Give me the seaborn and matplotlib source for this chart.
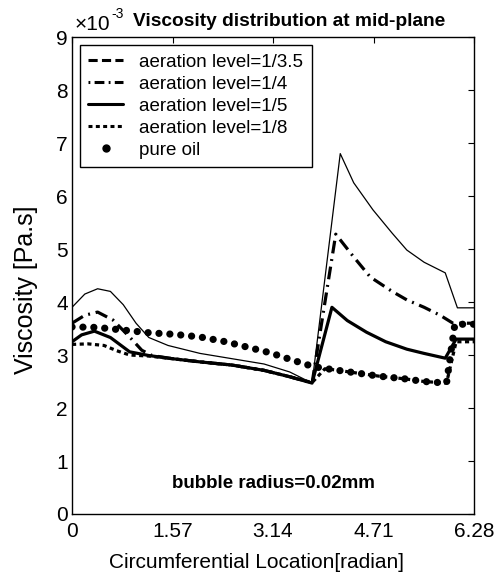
import matplotlib
matplotlib.use("Agg")
import matplotlib.pyplot as plt
from matplotlib.lines import Line2D
import seaborn as sns
import pandas as pd

# Viscosity along the circumference (values in units of 1e-3 Pa.s)
x_a35 = [0, 0.2, 0.4, 0.6, 0.8, 1.0, 1.2, 1.5, 2.0, 2.5, 3.0, 3.4, 3.75,
         4.19, 4.4, 4.7, 5.0, 5.23, 5.5, 5.83, 6.02, 6.28]
y_a35 = [3.9, 4.15, 4.25, 4.2, 3.95, 3.6, 3.33, 3.18, 3.03, 2.93, 2.83, 2.68, 2.47,
         6.8, 6.25, 5.74, 5.3, 4.98, 4.75, 4.55, 3.89, 3.89]

x_a4 = [0, 0.2, 0.4, 0.64, 0.9, 1.09, 1.25, 1.57, 2.0, 2.5, 3.0, 3.4, 3.75,
        4.12, 4.4, 4.66, 5.0, 5.23, 5.5, 5.75, 5.95, 6.28]
y_a4 = [3.6, 3.75, 3.81, 3.66, 3.34, 3.09, 2.99, 2.93, 2.87, 2.81, 2.71, 2.59, 2.47,
        5.28, 4.85, 4.47, 4.2, 4.04, 3.9, 3.75, 3.6, 3.6]

x_a5 = [0, 0.15, 0.35, 0.6, 0.9, 1.2, 1.57, 2.0, 2.5, 3.0, 3.4, 3.75,
        4.06, 4.3, 4.6, 4.9, 5.23, 5.5, 5.83, 6.0, 6.28]
y_a5 = [3.25, 3.38, 3.45, 3.33, 3.06, 2.99, 2.93, 2.87, 2.81, 2.71, 2.59, 2.47,
        3.9, 3.65, 3.43, 3.25, 3.11, 3.03, 2.94, 3.3, 3.3]

x_a8 = [0, 0.25, 0.5, 0.7, 0.9, 1.2, 1.57, 2.0, 2.5, 3.0, 3.4, 3.75,
        3.95, 4.1, 4.45, 4.8, 5.2, 5.5, 5.85, 6.0, 6.28]
y_a8 = [3.2, 3.21, 3.18, 3.08, 3.0, 2.98, 2.93, 2.87, 2.81, 2.71, 2.59, 2.48,
        2.74, 2.72, 2.66, 2.6, 2.55, 2.5, 2.47, 3.25, 3.25]

x_oil = [0, 0.4, 0.8, 1.2, 1.6, 2.0, 2.4, 2.8, 3.1, 3.4, 3.77, 4.1, 4.45,
         4.8, 5.2, 5.5, 5.85, 5.98, 6.28]
y_oil = [3.53, 3.52, 3.47, 3.42, 3.39, 3.34, 3.25, 3.13, 3.04, 2.92, 2.78, 2.72, 2.66,
         2.6, 2.55, 2.5, 2.47, 3.58, 3.58]

labels = ["aeration level=1/3.5", "aeration level=1/4", "aeration level=1/5",
          "aeration level=1/8", "pure oil"]
x_ticks = [0, 1.57, 3.14, 4.71, 6.28]
x_tick_labels = ["0", "1.57", "3.14", "4.71", "6.28"]
y_ticks = list(range(10))

sns.set_theme(style="white")
plt.rcParams["font.family"] = ["Liberation Sans", "DejaVu Sans"]
plt.rcParams.update({"text.color": "black", "axes.labelcolor": "black",
                     "xtick.color": "black", "ytick.color": "black"})

fig = plt.figure(figsize=(4.99, 5.72), dpi=100)
ax = fig.add_axes([0.1443, 0.1014, 0.8057, 0.8339])

dot_style = (0, (0.01, 1.5))
series = [
    (x_oil, y_oil, dict(linewidth=5.2, linestyle=dot_style, dash_capstyle="round")),
    (x_a8, y_a8, dict(linewidth=2.3, linestyle=(0, (1.3, 1.1)))),
    (x_a4, y_a4, dict(linewidth=2.3, linestyle=(0, (4.0, 1.8, 0.6, 1.8)))),
    (x_a5, y_a5, dict(linewidth=2.3, linestyle="-")),
    (x_a35, y_a35, dict(linewidth=0.9, linestyle="-")),
]
for xs, ys, kw in series:
    df = pd.DataFrame({"x": xs, "y": ys})
    sns.lineplot(data=df, x="x", y="y", ax=ax, color="black", sort=False,
                 estimator=None, legend=False, **kw)

ax.set_xlim(0, 6.28)
ax.set_ylim(0, 9)
ax.set_xticks(x_ticks)
ax.set_xticklabels(x_tick_labels)
ax.set_yticks(y_ticks)
ax.tick_params(direction="in", length=4, width=0.8, color="black",
               labelcolor="black", labelsize=15, top=True, right=True)
ax.tick_params(axis="x", pad=6)
ax.tick_params(axis="y", pad=3)
for sp in ax.spines.values():
    sp.set_color("black")
    sp.set_linewidth(1.0)

ax.set_xlabel("Circumferential Location[radian]", fontsize=15, color="black")
ax.xaxis.set_label_coords(0.458, -0.082)
ax.set_ylabel("Viscosity [Pa.s]", fontsize=18, color="black")
ax.yaxis.set_label_coords(-0.085, 0.47)

# exponent of the y scale
fig.text(0.150, 0.948, "\u00d710", fontsize=15, ha="left", va="baseline")
fig.text(0.224, 0.968, "-3", fontsize=10, ha="left", va="baseline")
fig.text(0.267, 0.955, "Viscosity distribution at mid-plane", fontsize=13.8,
         fontweight="bold", ha="left", va="baseline")
ax.text(3.14, 0.57, "bubble radius=0.02mm", fontsize=13.5, fontweight="bold",
        ha="center", va="center")

handles = [
    Line2D([], [], color="black", linewidth=2.2, linestyle=(0, (3.0, 1.4))),
    Line2D([], [], color="black", linewidth=2.2, linestyle=(0, (0.6, 1.4, 3.2, 1.4))),
    Line2D([], [], color="black", linewidth=2.2, linestyle="-"),
    Line2D([], [], color="black", linewidth=2.2, linestyle=(0, (1.3, 1.1))),
    Line2D([], [], color="black", linestyle="none", marker="o", markersize=5),
]
leg = ax.legend(handles, labels, loc="upper left", bbox_to_anchor=(0.02, 0.983),
                fontsize=13.5, frameon=True, fancybox=False, framealpha=1,
                edgecolor="black", handlelength=1.85, handletextpad=0.85,
                labelspacing=0.26, borderpad=0.45, borderaxespad=0)
leg.get_frame().set_linewidth(1.0)
for t in leg.get_texts():
    t.set_color("black")

fig.savefig("out.png", dpi=100)
